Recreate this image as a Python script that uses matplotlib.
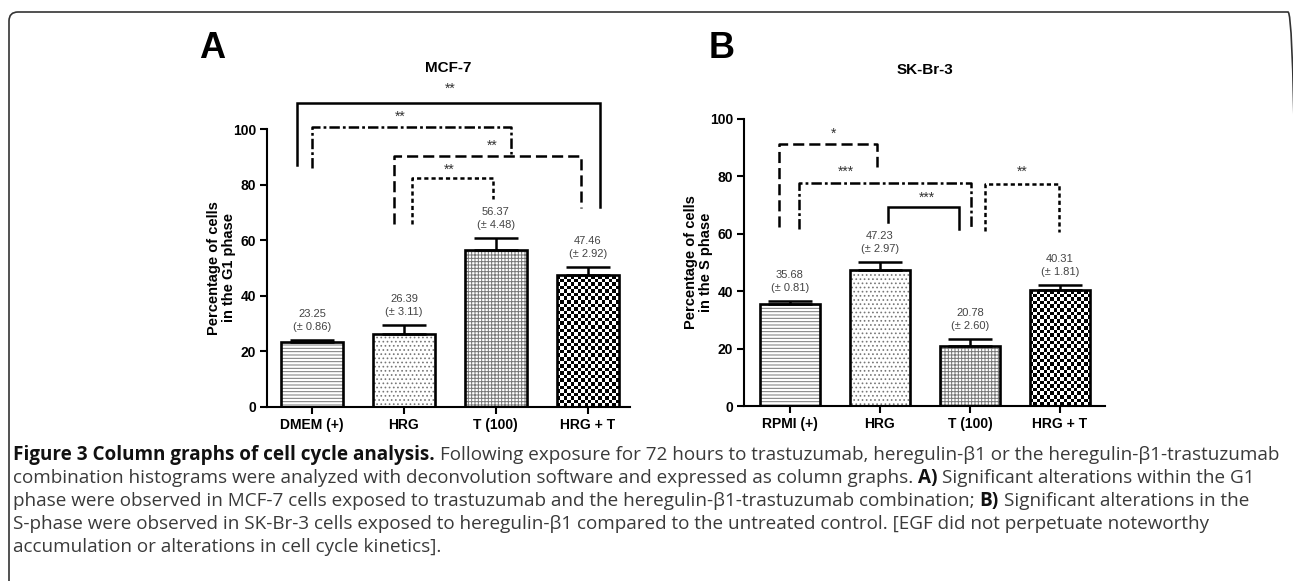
import numpy as np
import matplotlib
matplotlib.use("Agg")
import matplotlib.pyplot as plt
from matplotlib.patches import FancyBboxPatch
from matplotlib.transforms import IdentityTransform

plt.rcParams['font.family'] = ['Liberation Sans', 'DejaVu Sans']
plt.rcParams['lines.scale_dashes'] = False
plt.rcParams['hatch.linewidth'] = 0.7

# --- data -------------------------------------------------------------
groups_a = ["DMEM (+)", "HRG", "T (100)", "HRG + T"]
mean_a = [23.25, 26.39, 56.37, 47.46]
sem_a = [0.86, 3.11, 4.48, 2.92]

groups_b = ["RPMI (+)", "HRG", "T (100)", "HRG + T"]
mean_b = [35.68, 47.23, 20.78, 40.31]
sem_b = [0.81, 2.97, 2.60, 1.81]

# significance brackets: x left, x right, top, left leg end, right leg end,
# stars, star x, star y, line style
brackets_a = [
    (-0.16, 3.13, 109.4, 87.0, 72.0, "**", 1.50, 114.5, "solid"),
    (0.00, 2.17, 100.7, 86.0, 91.0, "**", 0.96, 104.5, "dashdot"),
    (0.89, 2.93, 90.2, 66.0, 71.5, "**", 1.96, 94.0, "dashed"),
    (1.09, 1.97, 82.3, 65.7, 75.0, "**", 1.49, 85.5, "dotted"),
]
brackets_b = [
    (-0.12, 0.97, 91.3, 62.4, 83.3, "*", 0.48, 95.0, "dashed"),
    (0.10, 2.01, 77.7, 61.7, 61.7, "***", 0.62, 81.5, "dashdot"),
    (1.09, 1.88, 69.3, 64.0, 61.7, "***", 1.52, 72.5, "solid"),
    (2.17, 2.99, 77.4, 61.0, 60.6, "**", 2.58, 81.5, "dotted"),
]

hatches = ["-----", "....", "+++++", None]
styles = {
    "solid": "-",
    "dashdot": (0, (7.5, 2.2, 2.0, 2.2)),
    "dashed": (0, (8.0, 3.6)),
    "dotted": (0, (3.0, 2.2)),
}

W, H = 1293, 581
fig = plt.figure(figsize=(W / 100, H / 100), dpi=100)


def px_box(left, right, top, bottom):
    return [left / W, 1 - bottom / H, (right - left) / W, (bottom - top) / H]


def checker(ax, bar):
    x0, y0 = bar.get_x(), bar.get_y()
    w, h = bar.get_width(), bar.get_height()
    nx = 18
    ny = max(1, int(round(h / 1.27)))
    grid = np.add.outer(np.arange(ny), np.arange(nx)) % 2
    im = ax.imshow(grid, cmap="gray", vmin=0, vmax=1, extent=(x0, x0 + w, y0, y0 + h),
                   aspect="auto", interpolation="nearest", zorder=1.5)
    im.set_clip_path(bar)


def panel(ax, groups, means, sems, brackets, title, title_y, ylabel, xlim):
    x = np.arange(len(groups))
    width = 0.67
    base = ax.bar(x, means, width, color="white", edgecolor="#777777", linewidth=0, zorder=1)
    for b, hp in zip(base, hatches):
        if hp:
            b.set_hatch(hp)
        else:
            checker(ax, b)
    ax.bar(x, means, width, fill=False, edgecolor="black", linewidth=1.9, zorder=3)
    ax.errorbar(x, means, yerr=[np.zeros(len(x)), sems], fmt="none", ecolor="black",
                elinewidth=1.8, capsize=16, capthick=1.8, zorder=2)
    for xi, m, s in zip(x, means, sems):
        ax.annotate(f"{m:.2f}\n(\u00b1 {s:.2f})", (xi, m + s), xytext=(0, 6),
                    textcoords="offset points", ha="center", va="bottom",
                    fontsize=8, color="#444444", linespacing=1.35)
    for xl, xr, top, yl, yr, stars, sx, sy, st in brackets:
        ax.plot([xl, xl, xr, xr], [yl, top, top, yr], color="black", lw=1.8,
                linestyle=styles[st], clip_on=False, solid_joinstyle="miter",
                dash_capstyle="butt", zorder=4)
        ax.text(sx, sy, stars, ha="center", va="center", fontsize=10, color="#333333")

    ax.set_xlim(*xlim)
    ax.set_ylim(0, 100)
    ax.set_yticks(range(0, 101, 20))
    ax.set_xticks(x)
    ax.set_xticklabels(groups)
    for side in ("top", "right"):
        ax.spines[side].set_visible(False)
    for side in ("left", "bottom"):
        ax.spines[side].set_linewidth(1.5)
    ax.tick_params(axis="both", length=5, width=1.5, labelsize=10, pad=3)
    for lab in ax.get_xticklabels() + ax.get_yticklabels():
        lab.set_fontweight("bold")
    ax.set_ylabel(ylabel, fontsize=10.5, fontweight="bold", linespacing=1.1)
    ax.yaxis.set_label_coords(-0.085, 0.5)
    ax.text(0.5, title_y, title, transform=ax.transAxes, ha="center", va="center",
            fontsize=11, fontweight="bold")


ax_a = fig.add_axes(px_box(267, 630, 129, 407))
panel(ax_a, groups_a, mean_a, sem_a, brackets_a, "MCF-7", 1.219,
      "Percentage of cells\nin the G1 phase", (-0.49, 3.46))

ax_b = fig.add_axes(px_box(744, 1105, 119, 406))
panel(ax_b, groups_b, mean_b, sem_b, brackets_b, "SK-Br-3", 1.171,
      "Percentage of cells\nin the S phase", (-0.51, 3.50))

fig.text(212 / W, 1 - 48 / H, "A", fontsize=26, fontweight="bold", ha="center", va="center")
fig.text(722 / W, 1 - 48 / H, "B", fontsize=26, fontweight="bold", ha="center", va="center")

# frame with rounded corners (bottom and right run off the image)
frame = FancyBboxPatch((9, -40), 1288, H - 12 + 40, boxstyle="round,pad=0,rounding_size=9",
                       transform=IdentityTransform(), fill=False, edgecolor="#333333",
                       linewidth=1.2)
fig.patches.append(frame)

# caption
caption = [
    [("Figure 3 Column graphs of cell cycle analysis.", "bold"),
     ("Following exposure for 72 hours to trastuzumab, heregulin-\u03b21 or the heregulin-\u03b21-trastuzumab", "normal")],
    [("combination histograms were analyzed with deconvolution software and expressed as column graphs.", "normal"),
     ("A)", "bold"), ("Significant alterations within the G1", "normal")],
    [("phase were observed in MCF-7 cells exposed to trastuzumab and the heregulin-\u03b21-trastuzumab combination;", "normal"),
     ("B)", "bold"), ("Significant alterations in the", "normal")],
    [("S-phase were observed in SK-Br-3 cells exposed to heregulin-\u03b21 compared to the untreated control. [EGF did not perpetuate noteworthy", "normal")],
    [("accumulation or alterations in cell cycle kinetics].", "normal")],
]
cap_font = ["Open Sans", "DejaVu Sans"]
r = fig.canvas.get_renderer()


def line_width(line, size):
    tmp = [fig.text(0, 0, s, family=cap_font, fontsize=size, fontweight=w) for s, w in line]
    sp = [fig.text(0, 0, k, family=cap_font, fontsize=size) for k in ("xx", "x x")]
    space = sp[1].get_window_extent(r).width - sp[0].get_window_extent(r).width
    total = sum(t.get_window_extent(r).width for t in tmp) + space * (len(line) - 1)
    for t in tmp + sp:
        t.remove()
    return total, space


# fit the first line to the reference width
w12, _ = line_width(caption[0], 12)
cap_size = 12 * (1275 - 13) / w12
_, space = line_width(caption[0], cap_size)

for i, line in enumerate(caption):
    xpos = 13
    ypos = H - (455 + i * 23.0)
    for s, w in line:
        t = fig.text(xpos, ypos, s, family=cap_font, fontsize=cap_size, fontweight=w,
                     color="#111111" if w == "bold" else "#3a3a3a",
                     va="center", ha="left", transform=IdentityTransform())
        xpos = t.get_window_extent(r).x1 + space

fig.savefig("out.png", dpi=100)
